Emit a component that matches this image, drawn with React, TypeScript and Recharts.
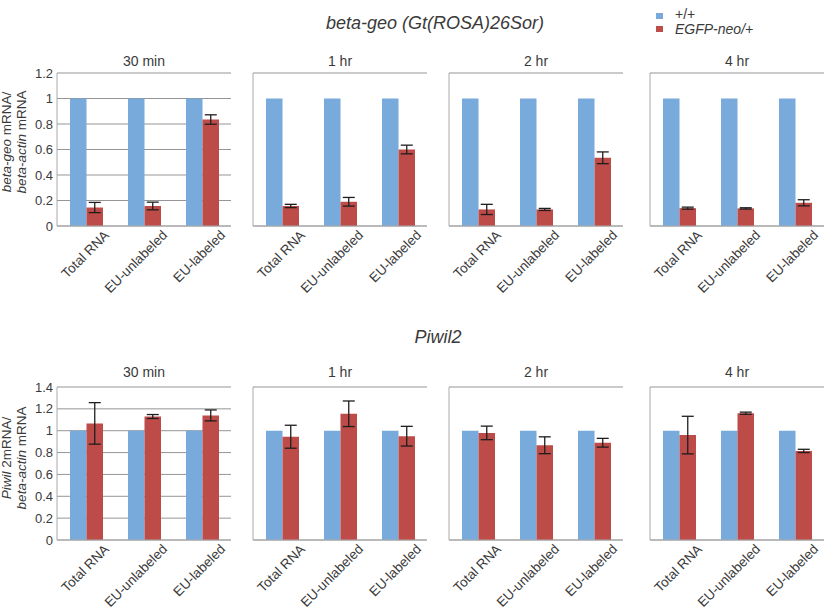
import * as React from "react"
import { Bar, BarChart, CartesianGrid, ErrorBar, XAxis, YAxis } from "recharts"

const categories = ["Total RNA", "EU-unlabeled", "EU-labeled"]
const timepoints = ["30 min", "1 hr", "2 hr", "4 hr"]

// +/+ is the reference, always 1
const wildType = [1, 1, 1]

// EGFP-neo/+ : beta-geo relative to beta-actin, one row per time point
const betaGeoMutant = [
  [0.145, 0.157, 0.835],
  [0.157, 0.19, 0.6],
  [0.13, 0.13, 0.535],
  [0.14, 0.138, 0.182],
]
const betaGeoError = [
  [0.04, 0.03, 0.037],
  [0.013, 0.034, 0.034],
  [0.04, 0.008, 0.046],
  [0.008, 0.005, 0.024],
]

// EGFP-neo/+ : Piwil2 relative to beta-actin
const piwil2Mutant = [
  [1.067, 1.13, 1.14],
  [0.945, 1.155, 0.95],
  [0.98, 0.867, 0.89],
  [0.96, 1.16, 0.815],
]
const piwil2Error = [
  [0.19, 0.018, 0.05],
  [0.105, 0.117, 0.09],
  [0.062, 0.077, 0.04],
  [0.172, 0.01, 0.015],
]

const betaGeoTicks = [0, 0.2, 0.4, 0.6, 0.8, 1, 1.2]
const piwil2Ticks = [0, 0.2, 0.4, 0.6, 0.8, 1, 1.2, 1.4]

const FONT = '"Liberation Sans", Arial, Helvetica, sans-serif'
const BLUE = "#79aadc"
const RED = "#bd4b48"
const GRID = "#959595"
const TEXT = "#3a3a3a"

// layout
const PLOT_LEFTS = [57, 253, 449, 650]
const PLOT_W = 174
const PLOT_H = 153
const ROW_TOPS = [73, 387]
const Y_W = 45
const M_TOP = 10
const M_RIGHT = 40
const X_H = 90

const CategoryTick = (props: any) => {
  const { x, y, payload } = props
  const px = x + 24
  const py = y + 10
  return (
    <text
      x={px}
      y={py}
      transform={`rotate(-45, ${px}, ${py})`}
      textAnchor="end"
      fontSize={13.5}
      fontFamily={FONT}
      fill={TEXT}
    >
      {payload.value}
    </text>
  )
}

interface PanelProps {
  row: number
  col: number
  mutant: number[]
  errors: number[]
  ticks: number[]
}

function Panel({ row, col, mutant, errors, ticks }: PanelProps) {
  const data = categories.map((c, i) => ({
    category: c,
    wildType: wildType[i],
    mutant: mutant[i],
    err: errors[i],
  }))
  const showTicks = col === 0
  return (
    <div style={{ position: "absolute", left: PLOT_LEFTS[col] - Y_W, top: ROW_TOPS[row] - M_TOP }}>
      <BarChart
        width={Y_W + PLOT_W + M_RIGHT}
        height={M_TOP + PLOT_H + X_H}
        data={data}
        margin={{ top: M_TOP, right: M_RIGHT, left: 0, bottom: 0 }}
        barGap={0}
      >
        <CartesianGrid horizontal vertical={false} stroke={GRID} />
        <XAxis
          dataKey="category"
          height={X_H}
          interval={0}
          tickLine={false}
          tickSize={0}
          tickMargin={0}
          axisLine={{ stroke: "#aaaaaa" }}
          tick={<CategoryTick />}
        />
        <YAxis
          width={Y_W}
          domain={[0, ticks[ticks.length - 1]]}
          ticks={ticks}
          interval={0}
          tickLine={false}
          tickSize={0}
          tickMargin={4}
          axisLine={{ stroke: "#aaaaaa" }}
          tick={showTicks ? { fontSize: 13, fill: TEXT, fontFamily: FONT } : false}
        />
        <Bar dataKey="wildType" fill={BLUE} barSize={16.5} isAnimationActive={false} />
        <Bar dataKey="mutant" fill={RED} barSize={16.5} isAnimationActive={false}>
          <ErrorBar dataKey="err" direction="y" width={6} stroke="#1e1e1e" strokeWidth={1.3} />
        </Bar>
      </BarChart>
    </div>
  )
}

export default function App() {
  const plotCenter = (col: number) => PLOT_LEFTS[col] + PLOT_W / 2
  return (
    <div
      style={{
        position: "absolute",
        left: 0,
        top: 0,
        width: 827,
        height: 612,
        background: "#fff",
        overflow: "hidden",
        fontFamily: FONT,
      }}
    >
      {timepoints.map((_, col) => (
        <Panel key={`geo-${col}`} row={0} col={col} mutant={betaGeoMutant[col]} errors={betaGeoError[col]} ticks={betaGeoTicks} />
      ))}
      {timepoints.map((_, col) => (
        <Panel key={`piwi-${col}`} row={1} col={col} mutant={piwil2Mutant[col]} errors={piwil2Error[col]} ticks={piwil2Ticks} />
      ))}
      <svg width={827} height={612} style={{ position: "absolute", left: 0, top: 0, pointerEvents: "none" }}>
        <text x={435} y={29} textAnchor="middle" fontSize={18} fontStyle="italic" fill={TEXT} fontFamily={FONT}>
          beta-geo (Gt(ROSA)26Sor)
        </text>
        <text x={438} y={343} textAnchor="middle" fontSize={18} fontStyle="italic" fill={TEXT} fontFamily={FONT}>
          Piwil2
        </text>

        <rect x={656} y={13} width={7} height={6} fill={BLUE} />
        <text x={675} y={19} fontSize={14} fill={TEXT} fontFamily={FONT}>+/+</text>
        <rect x={656} y={26} width={7} height={6} fill={RED} />
        <text x={675} y={34} fontSize={14} fontStyle="italic" fill={TEXT} fontFamily={FONT}>EGFP-neo/+</text>

        {timepoints.map((t, col) => (
          <React.Fragment key={t}>
            <text x={plotCenter(col)} y={66} textAnchor="middle" fontSize={14} fill={TEXT} fontFamily={FONT}>{t}</text>
            <text x={plotCenter(col)} y={377} textAnchor="middle" fontSize={14} fill={TEXT} fontFamily={FONT}>{t}</text>
          </React.Fragment>
        ))}

        <g transform="rotate(-90, 11, 142)">
          <text x={11} y={142} textAnchor="middle" fontSize={13.5} fill={TEXT} fontFamily={FONT}>
            <tspan fontStyle="italic">beta-geo</tspan> mRNA/
          </text>
          <text x={11} y={157} textAnchor="middle" fontSize={13.5} fill={TEXT} fontFamily={FONT}>
            <tspan fontStyle="italic">beta-actin</tspan> mRNA
          </text>
        </g>
        <g transform="rotate(-90, 11, 458)">
          <text x={11} y={458} textAnchor="middle" fontSize={13.5} fill={TEXT} fontFamily={FONT}>
            <tspan fontStyle="italic">Piwil</tspan> 2mRNA/
          </text>
          <text x={11} y={473} textAnchor="middle" fontSize={13.5} fill={TEXT} fontFamily={FONT}>
            <tspan fontStyle="italic">beta-actin</tspan> mRNA
          </text>
        </g>
      </svg>
    </div>
  )
}
